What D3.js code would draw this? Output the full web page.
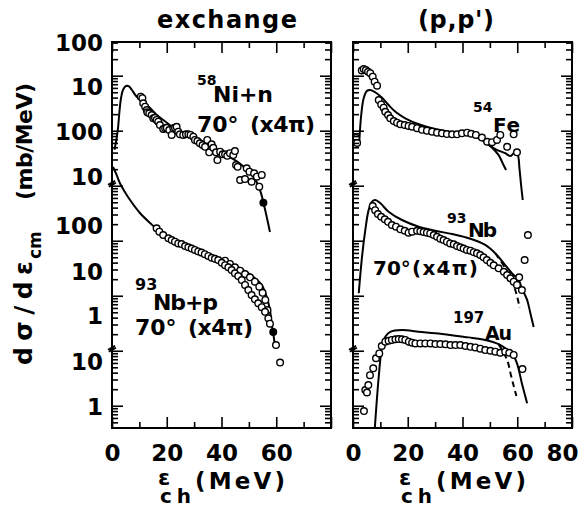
<!DOCTYPE html>
<html><head><meta charset="utf-8">
<script src="https://cdn.jsdelivr.net/npm/d3@7"></script>
<style>
html,body{margin:0;padding:0;background:#fff;}
svg{display:block;}
text{font-family:"DejaVu Sans",sans-serif;font-weight:bold;fill:#000;}
</style></head><body>
<svg id="chart" width="587" height="508"></svg>
<script>
// ---------- data (x: MeV, y: stacked dσ/dε, log axis) ----------
// Left panel: exchange
const niCurveX = [0.9,1.6,2.2,2.7,3.3,4.0,5.1,6.2,7.3,8.8,11.0,13.9,16.8,19.7,23.0,26.3,29.2,32.1,35.8,39.5,43.1,46.0,48.6,51.1,53.0,54.4,55.5,56.6,57.7];
const niCurveY = [4.5e4,6.8e4,1.12e5,2.19e5,3.93e5,5.5e5,6.5e5,6.4e5,5.5e5,4.27e5,3.47e5,2.59e5,1.85e5,1.44e5,1.07e5,9.1e4,7.7e4,6.8e4,5.3e4,4.1e4,3.3e4,2.7e4,2.1e4,1.57e4,1.12e4,7.4e3,4.5e3,2.6e3,1.44e3];
const niDataX = [10.5,11.1,11.4,12.1,12.7,12.9,13.6,14.5,15.1,15.7,16.3,16.9,17.5,18.7,19.4,20.0,20.9,21.8,22.4,23.0,23.6,24.2,24.8,26.0,27.0,27.9,28.7,29.7,30.3,31.2,32.1,33.1,34.0,34.8,35.5,36.4,37.0,38.0,38.5,39.5,40.4,41.3,42.1,43.1,44.3,44.9,45.3,45.9,46.8,48.6,49.2,50.2,51.0,51.9,52.9,53.8,54.7];
const niDataY = [4.15e5,3.9e5,3.15e5,2.73e5,2.38e5,2.16e5,2.07e5,1.93e5,1.68e5,1.72e5,1.57e5,1.46e5,1.27e5,1.07e5,1.11e5,1.13e5,1.03e5,8.4e4,1.11e5,1.13e5,1.18e5,9.6e4,8.6e4,8.4e4,8.6e4,8.6e4,8.4e4,7.8e4,6.8e4,6.5e4,5.9e4,5.5e4,5.1e4,6.8e4,4.05e4,5.65e4,4.9e4,4.05e4,2.93e4,4.15e4,3.72e4,3.72e4,3.5e4,3.9e4,3.6e4,4.27e4,2.38e4,2.21e4,1.27e4,1.32e4,2.07e4,1.8e4,1.18e4,1.68e4,1.46e4,9.6e3,1.57e4];
const niFilledX = [55.3];
const niFilledY = [4.9e3];

const nbpCurveX = [0.4,1.7,2.9,4.7,6.6,10.2,13.9,17.5,23.6,29.7,35.8,41.9,48.0,51.6,54.7,56.5,57.7,58.3,58.9,59.5];
const nbpCurveY = [2.19e4,1.57e4,1.11e4,7.7e3,5.5e3,3.19e3,2.1e3,1.46e3,9.6e2,7.3e2,5.5e2,4.15e2,2.93e2,2.21e2,1.57e2,96,55,31.5,20.7,12.7];
const nbpDataX = [16.3,17.3,18.7,20.6,21.8,23.0,24.2,25.4,26.7,27.9,29.1,30.3,31.5,32.7,33.9,35.2,36.4,37.6,38.8,40.1,41.3,42.5,43.7,44.9,46.1,47.4,48.6,49.8,51.0,52.2,53.4,54.7,55.9,57.1,57.7,59.9,61.4];
const nbpDataY = [1.68e3,1.46e3,1.27e3,1.11e3,1.03e3,9.6e2,8.95e2,8.7e2,8.0e2,7.6e2,7.2e2,6.8e2,6.4e2,6.1e2,5.7e2,5.3e2,4.9e2,4.7e2,4.46e2,3.98e2,3.6e2,3.28e2,2.93e2,2.55e2,2.28e2,1.93e2,1.57e2,1.27e2,1.03e2,86,73,62,51,39,31,12.7,6.1];
const nbpData2X = [41.3,43.1,44.9,46.8,48.6,50.4,52.2,53.8,55.0,56.0,56.8];
const nbpData2Y = [4.33e2,3.78e2,3.28e2,2.85e2,2.48e2,2.16e2,1.8e2,1.46e2,1.13e2,84,55];
const nbpFilledX = [58.9];
const nbpFilledY = [22];

// Right panel: (p,p')
const feCurveX = [2.3,3.0,3.9,5.1,6.3,8.1,10.6,13.0,15.5,19.1,24.0,30.1,36.2,41.0,44.7,48.3,52.0,55.6,57.5,59.1,60.2,60.8,61.4,62.0];
const feCurveY = [6.3e4,1.93e5,3.9e5,5.3e5,5.5e5,5.0e5,3.98e5,2.93e5,2.21e5,1.68e5,1.31e5,1.07e5,9.4e4,8.95e4,7.8e4,6.2e4,4.65e4,3.9e4,3.47e4,4.05e4,3.6e4,2.07e4,1.03e4,5.5e3];
const feCurve2X = [48.3,50.8,53.2,54.7,55.9];
const feCurve2Y = [6.2e4,4.9e4,3.6e4,2.55e4,1.93e4];
const feDataX = [1.1,1.5,3.2,3.9,4.7,5.5,6.3,7.2,7.9,8.8,9.4,10.3,11.2,11.8,12.8,13.6,14.9,16.1,17.3,18.9,20.3,21.6,23.4,25.2,27.0,28.9,30.7,32.5,34.3,36.2,38.0,39.8,41.7,43.2,44.9,47.1,49.0,50.8,52.6,53.8,56.3,58.7,59.9];
const feDataY = [7.4e4,6.0e4,1.25e6,1.32e6,1.27e6,1.18e6,1.11e6,9.6e5,7.8e5,6.6e5,3.6e5,3.0e5,2.62e5,2.21e5,1.93e5,1.68e5,1.5e5,1.4e5,1.31e5,1.27e5,1.22e5,1.18e5,1.11e5,1.04e5,1.0e5,9.6e4,9.2e4,8.95e4,8.7e4,8.6e4,8.6e4,8.95e4,9.2e4,8.8e4,8.4e4,7.5e4,6.3e4,6.2e4,6.8e4,8.4e4,5.1e4,8.6e4,4.05e4];

const nbCurveX = [2.1,3.3,4.5,5.7,6.9,8.1,10.0,13.0,17.9,24.0,30.1,36.2,42.3,48.3,52.0,55.6,58.1,60.5,61.7,63.6,64.8,66.0];
const nbCurveY = [111,512,1.57e3,3.6e3,5.1e3,5.5e3,4.8e3,3.37e3,2.38e3,1.8e3,1.52e3,1.32e3,1.11e3,8.4e2,5.9e2,3.6e2,2.55e2,1.93e2,1.36e2,84,48,27];
const nbDashX = [52.0,55.6,58.1,59.6,60.5,60.8];
const nbDashY = [5.9e2,3.19e2,1.85e2,1.12e2,74,60];
const nbDataX = [7.2,8.1,9.1,10.3,11.6,12.8,14.2,15.7,17.3,18.9,20.3,21.6,23.4,24.6,25.8,27.0,28.2,29.5,30.7,31.9,33.1,34.3,35.5,36.8,38.0,39.2,40.4,41.6,42.9,44.1,45.3,46.5,47.7,48.9,50.2,51.4,53.2,55.1,56.3,57.5,58.7,59.9,60.7,61.7,62.7,63.9];
const nbDataY = [4.27e3,3.6e3,3.06e3,2.73e3,2.45e3,2.21e3,1.93e3,1.8e3,1.61e3,1.52e3,1.4e3,1.46e3,1.52e3,1.48e3,1.44e3,1.4e3,1.36e3,1.27e3,1.18e3,1.09e3,1.03e3,9.6e2,8.95e2,8.6e2,8.0e2,7.6e2,7.2e2,6.8e2,6.6e2,6.2e2,5.9e2,5.5e2,5.0e2,4.46e2,3.98e2,3.57e2,3.15e2,2.73e2,2.38e2,2.07e2,1.8e2,1.57e2,2.16e2,1.27e2,4.46e2,1.27e3];

const auCurveX = [7.9,9.4,10.6,11.8,13.6,17.9,24.0,30.1,36.2,42.3,48.3,53.2,56.3,58.1,59.9,61.7,63.6];
const auCurveY = [0.35,3.37,11.8,18,22.1,23.8,22.1,20.7,19.1,17.5,15.7,13.2,10.6,8.95,5.9,2.55,1.11];
const auDashX = [53.2,56.3,57.7,58.8,59.7];
const auDashY = [13.2,6.8,3.6,2.19,1.5];
const auDataX = [4.0,4.5,5.1,5.6,6.2,7.4,8.4,9.6,10.5,11.8,13.0,14.2,15.5,16.7,17.9,19.1,20.4,21.6,22.8,24.6,26.4,28.3,30.1,31.9,33.8,35.6,37.4,39.2,41.1,42.9,44.7,46.5,48.3,50.2,52.0,53.8,55.6,57.1,58.7,61.9];
const auDataY = [0.80,1.93,1.74,2.38,3.6,4.8,7.3,8.95,12.2,14.6,15.2,15.7,16.1,16.3,16.1,15.7,14.6,14.0,13.6,13.6,13.6,13.6,13.2,13.2,13.1,12.7,12.7,12.7,12.2,11.8,11.5,10.9,10.3,10.0,9.6,9.2,9.6,9.2,8.4,4.65];

// axis ticks / labels
const xMajorTicks = [0,20,40,60,80];
const xMinorTicks = [10,30,50,70];
const xLabelsLeft = [0,20,40,60];
const xLabelsRight = [0,20,40,60,80];
const yDecades = [1,10,100,1e3,1e4,1e5,1e6];
const yLabelText = ["100","10","100","10","100","10","1","10","1"];
const yLabelAt = [3.94e6,6.24e5,9.5e4,1.44e4,1.85e3,2.7e2,42.7,6.2,0.95];
const yBreaks = [1e4,10];

// ---------- layout ----------
const svg = d3.select("#chart");
const yTop = 42, yBot = 428;
const panels = [
  {key:"L", x0:112, x1:331},
  {key:"R", x0:353, x1:572}
];
const y = d3.scaleLog().domain([0.394,4.1e6]).range([yBot,yTop]);
const yMinor = [];
[0.1].concat(yDecades).forEach(d=>{ for(let k=2;k<=9;k++){ const v=k*d; if(v>=y.domain()[0] && v<=y.domain()[1]) yMinor.push(v);} });

panels.forEach(p=>{
  p.x = d3.scaleLinear().domain([0,80]).range([p.x0,p.x1]);
  const g = svg.append("g");
  p.g = g;
  svg.append("clipPath").attr("id","clip"+p.key).append("rect")
    .attr("x",p.x0).attr("y",yTop).attr("width",p.x1-p.x0).attr("height",yBot-yTop);
  p.plot = g.append("g").attr("clip-path","url(#clip"+p.key+")");

  const addAxis = (axis, tr)=>{
    const a = g.append("g").attr("transform",tr).call(axis);
    a.select(".domain").remove();
    a.selectAll("line").attr("stroke","#000").attr("stroke-width",1.6);
    a.selectAll("text").remove();
  };
  addAxis(d3.axisBottom(p.x).tickValues(xMajorTicks).tickSize(11), `translate(0,${yTop})`);
  addAxis(d3.axisBottom(p.x).tickValues(xMinorTicks).tickSize(6), `translate(0,${yTop})`);
  addAxis(d3.axisTop(p.x).tickValues(xMajorTicks).tickSize(11), `translate(0,${yBot})`);
  addAxis(d3.axisTop(p.x).tickValues(xMinorTicks).tickSize(6), `translate(0,${yBot})`);
  addAxis(d3.axisRight(y).tickValues(yDecades).tickSize(11), `translate(${p.x0},0)`);
  addAxis(d3.axisRight(y).tickValues(yMinor).tickSize(6), `translate(${p.x0},0)`);
  addAxis(d3.axisLeft(y).tickValues(yDecades).tickSize(11), `translate(${p.x1},0)`);
  addAxis(d3.axisLeft(y).tickValues(yMinor).tickSize(6), `translate(${p.x1},0)`);

  g.append("rect").attr("x",p.x0).attr("y",yTop).attr("width",p.x1-p.x0).attr("height",yBot-yTop)
    .attr("fill","none").attr("stroke","#000").attr("stroke-width",2);

  const lab = g.append("g").attr("transform",`translate(0,${yBot})`)
    .call(d3.axisBottom(p.x).tickValues(p.key==="L"?xLabelsLeft:xLabelsRight).tickSize(0).tickPadding(17).tickFormat(d3.format("d")));
  lab.select(".domain").remove();
  lab.selectAll("text").attr("font-size",23).attr("font-family","DejaVu Sans").attr("font-weight","bold").attr("fill","#000")
    .attr("dx", d => d === 80 ? -10 : 0);

  yBreaks.forEach(v=>{
    const yy = y(v), xx = p.x0;
    g.append("path")
      .attr("d",`M${xx-4},${yy-1} L${xx+3},${yy-5} L${xx-3},${yy+1} L${xx+4},${yy-3}`)
      .attr("fill","none").attr("stroke","#000").attr("stroke-width",1.6);
  });
});

const PL = panels[0], PR = panels[1];

function drawLine(p, xs, ys, dashed){
  const pts = xs.map((v,i)=>[v,ys[i]]);
  p.plot.append("path").datum(pts)
    .attr("d", d3.line().x(d=>p.x(d[0])).y(d=>y(d[1])).curve(d3.curveCatmullRom.alpha(0.5)))
    .attr("fill","none").attr("stroke","#000").attr("stroke-width",2)
    .attr("stroke-dasharray", dashed ? "6,4" : null);
}
function drawPts(p, xs, ys, filled){
  const pts = xs.map((v,i)=>[v,ys[i]]);
  p.plot.append("g").selectAll("circle").data(pts).join("circle")
    .attr("cx",d=>p.x(d[0])).attr("cy",d=>y(d[1])).attr("r",3.3)
    .attr("fill", filled ? "#000" : "#fff").attr("stroke","#000").attr("stroke-width",1.4);
}

drawLine(PL, niCurveX, niCurveY);
drawPts(PL, niDataX, niDataY);
drawPts(PL, niFilledX, niFilledY, true);
drawLine(PL, nbpCurveX, nbpCurveY);
drawPts(PL, nbpData2X, nbpData2Y);
drawPts(PL, nbpDataX, nbpDataY);
drawPts(PL, nbpFilledX, nbpFilledY, true);

drawLine(PR, feCurveX, feCurveY);
drawLine(PR, feCurve2X, feCurve2Y);
drawPts(PR, feDataX, feDataY);
drawLine(PR, nbCurveX, nbCurveY);
drawLine(PR, nbDashX, nbDashY, true);
drawPts(PR, nbDataX, nbDataY);
drawLine(PR, auCurveX, auCurveY);
drawLine(PR, auDashX, auDashY, true);
drawPts(PR, auDataX, auDataY);

// y tick labels (left panel)
svg.append("g").selectAll("text").data(yLabelText).join("text")
  .attr("x",103).attr("y",(d,i)=>y(yLabelAt[i])).attr("dy","0.36em")
  .attr("text-anchor","end").attr("font-size",23).text(d=>d);

function T(x, yy, s, size, opts={}){
  const t = svg.append("text").attr("x",x).attr("y",yy).attr("font-size",size).text(s);
  if(opts.len) t.attr("textLength",opts.len).attr("lengthAdjust","spacing");
  if(opts.anchor) t.attr("text-anchor",opts.anchor);
  if(opts.tr) t.attr("transform",opts.tr);
  return t;
}

// titles
T(157, 28, "exchange", 24, {len:140});
T(418, 28, "(p,p')", 24, {len:76});

// y axis title (rotated, one text element)
{
  const t = svg.append("text").attr("transform","translate(32,365) rotate(-90)").attr("font-size",25);
  t.append("tspan").attr("x",0).attr("y",0).attr("textLength",104).attr("lengthAdjust","spacing").text("dσ/dε");
  t.append("tspan").attr("x",106).attr("y",9).attr("font-size",17).text("cm");
  t.append("tspan").attr("x",165).attr("y",0).attr("font-size",22).attr("textLength",117).attr("lengthAdjust","spacing").text("(mb/MeV)");
}

// x axis titles (one text element each)
panels.forEach(p=>{
  const t = svg.append("text").attr("font-size",22);
  t.append("tspan").attr("x",p.x0+46).attr("y",485).text("ε");
  t.append("tspan").attr("x",p.x0+48).attr("y",503).attr("font-size",20).attr("textLength",31).attr("lengthAdjust","spacing").text("ch");
  t.append("tspan").attr("x",p.x0+83).attr("y",489).attr("font-size",23).attr("textLength",90).attr("lengthAdjust","spacing").text("(MeV)");
});

// annotations, left panel
T(197, 85, "58", 14);
T(213, 102, "Ni+n", 22, {len:60});
T(197, 132, "70°", 22);
T(250, 132, "(x4π)", 22, {len:65});
T(135, 290, "93", 16);
T(153, 310, "Nb+p", 22, {len:65});
T(135, 335, "70°", 22);
T(188, 335, "(x4π)", 22, {len:65});
// annotations, right panel
T(473, 112, "54", 14);
T(493, 132, "Fe", 20, {len:27});
T(447, 223, "93", 14);
T(468, 237, "Nb", 20, {len:29});
T(373, 275, "70°", 20);
T(412, 275, "(x4π)", 20, {len:66});
T(453, 323, "197", 15);
T(485, 340, "Au", 19, {len:27});
</script>
</body></html>
